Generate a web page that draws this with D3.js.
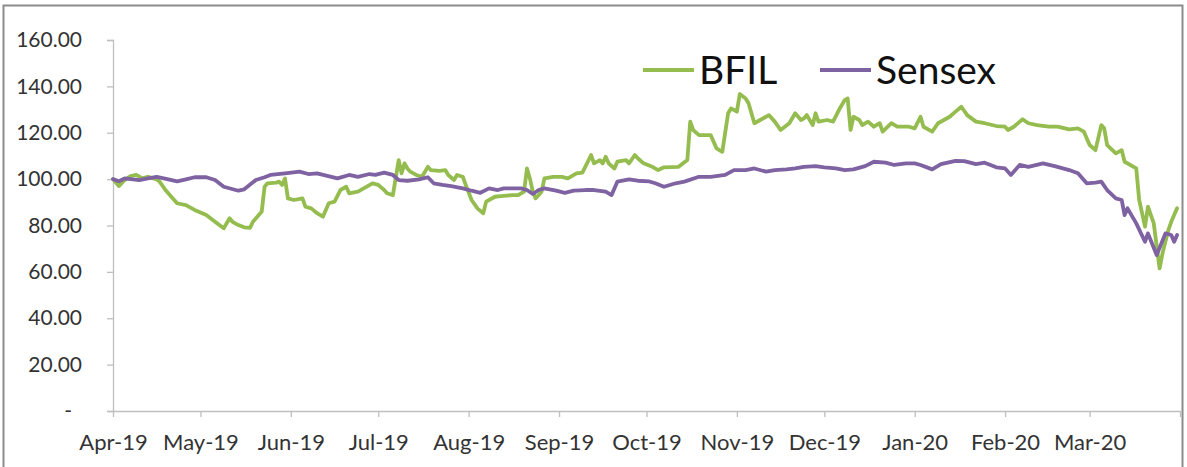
<!DOCTYPE html>
<html>
<head>
<meta charset="utf-8">
<script src="https://cdn.jsdelivr.net/npm/d3@7"></script>
<style>
  body { margin: 0; background: #fff; }
  svg { display: block; font-family: Lato, "Open Sans", sans-serif; }
</style>
</head>
<body>
<div id="app"></div>
<script>
// month boundaries shown as ticks on the x axis (last one has no label)
const monthTicks = ["2019-04-01", "2019-05-01", "2019-06-01", "2019-07-01", "2019-08-01", "2019-09-01",
    "2019-10-01", "2019-11-01", "2019-12-01", "2020-01-01", "2020-02-01", "2020-03-01", "2020-04-01"];
const yTicks = [0, 20, 40, 60, 80, 100, 120, 140, 160];
const seriesNames = ["BFIL", "Sensex"];

// indexed values (1 Apr 2019 = 100)
const bfil = [
    ["2019-04-01", 100.0], ["2019-04-03", 97.0], ["2019-04-05", 99.6], ["2019-04-07", 101.3], ["2019-04-09", 101.8],
    ["2019-04-11", 100.3], ["2019-04-13", 101.0], ["2019-04-16", 99.9], ["2019-04-17", 98.9], ["2019-04-19", 95.3],
    ["2019-04-21", 92.4], ["2019-04-23", 89.6], ["2019-04-26", 88.8], ["2019-04-29", 86.7], ["2019-05-03", 84.5],
    ["2019-05-06", 81.6], ["2019-05-09", 78.8], ["2019-05-11", 83.1], ["2019-05-12", 81.6], ["2019-05-14", 80.2],
    ["2019-05-16", 79.2], ["2019-05-18", 79.0], ["2019-05-19", 81.6], ["2019-05-21", 84.5], ["2019-05-22", 85.9],
    ["2019-05-23", 96.7], ["2019-05-24", 98.2], ["2019-05-27", 98.5], ["2019-05-28", 98.9], ["2019-05-29", 97.5],
    ["2019-05-30", 100.3], ["2019-05-31", 91.7], ["2019-06-02", 91.0], ["2019-06-05", 91.7], ["2019-06-06", 88.1],
    ["2019-06-08", 87.4], ["2019-06-10", 85.3], ["2019-06-12", 83.8], ["2019-06-14", 89.6], ["2019-06-16", 90.3],
    ["2019-06-18", 95.3], ["2019-06-20", 96.7], ["2019-06-21", 93.9], ["2019-06-24", 94.6], ["2019-06-26", 96.0],
    ["2019-06-29", 98.2], ["2019-07-01", 97.5], ["2019-07-03", 95.3], ["2019-07-04", 93.9], ["2019-07-06", 93.1],
    ["2019-07-08", 108.2], ["2019-07-09", 102.5], ["2019-07-10", 106.8], ["2019-07-11", 104.6], ["2019-07-12", 103.2],
    ["2019-07-14", 101.8], ["2019-07-16", 101.0], ["2019-07-18", 105.3], ["2019-07-19", 103.9], ["2019-07-22", 103.6],
    ["2019-07-24", 103.9], ["2019-07-25", 101.8], ["2019-07-27", 99.6], ["2019-07-28", 101.8], ["2019-07-30", 101.0],
    ["2019-07-31", 97.5], ["2019-08-02", 91.0], ["2019-08-04", 87.4], ["2019-08-06", 85.3], ["2019-08-07", 90.3],
    ["2019-08-08", 91.0], ["2019-08-10", 92.4], ["2019-08-12", 92.7], ["2019-08-16", 93.1], ["2019-08-18", 93.1],
    ["2019-08-20", 94.6], ["2019-08-21", 104.6], ["2019-08-22", 100.3], ["2019-08-23", 94.6], ["2019-08-24", 91.7],
    ["2019-08-26", 94.6], ["2019-08-27", 100.3], ["2019-08-30", 101.0], ["2019-09-02", 101.0], ["2019-09-04", 100.3],
    ["2019-09-07", 102.5], ["2019-09-09", 102.8], ["2019-09-10", 105.3], ["2019-09-12", 110.4], ["2019-09-13", 106.8],
    ["2019-09-15", 108.2], ["2019-09-16", 106.8], ["2019-09-17", 109.7], ["2019-09-18", 106.8], ["2019-09-20", 104.6],
    ["2019-09-21", 107.5], ["2019-09-24", 108.2], ["2019-09-25", 106.8], ["2019-09-27", 110.4], ["2019-09-28", 109.0],
    ["2019-09-30", 106.8], ["2019-10-03", 105.3], ["2019-10-05", 103.9], ["2019-10-07", 105.1], ["2019-10-12", 105.3],
    ["2019-10-15", 108.2], ["2019-10-16", 124.8], ["2019-10-17", 121.2], ["2019-10-19", 119.0], ["2019-10-23", 119.0],
    ["2019-10-25", 113.3], ["2019-10-27", 111.8], ["2019-10-29", 128.4], ["2019-10-30", 130.5], ["2019-11-01", 129.1],
    ["2019-11-02", 136.7], ["2019-11-04", 134.8], ["2019-11-05", 132.7], ["2019-11-07", 124.1], ["2019-11-09", 125.5],
    ["2019-11-12", 127.6], ["2019-11-14", 124.8], ["2019-11-16", 121.2], ["2019-11-19", 124.1], ["2019-11-21", 128.4],
    ["2019-11-23", 125.5], ["2019-11-24", 126.2], ["2019-11-25", 127.6], ["2019-11-27", 123.3], ["2019-11-28", 128.4],
    ["2019-11-29", 124.8], ["2019-12-02", 125.5], ["2019-12-04", 124.8], ["2019-12-06", 129.8], ["2019-12-08", 134.1],
    ["2019-12-09", 134.8], ["2019-12-10", 121.2], ["2019-12-11", 126.9], ["2019-12-13", 125.5], ["2019-12-14", 123.3],
    ["2019-12-16", 124.8], ["2019-12-18", 122.6], ["2019-12-20", 124.1], ["2019-12-21", 120.5], ["2019-12-24", 124.1],
    ["2019-12-26", 122.6], ["2019-12-30", 122.6], ["2020-01-01", 121.9], ["2020-01-03", 126.9], ["2020-01-04", 122.6],
    ["2020-01-07", 120.5], ["2020-01-09", 124.1], ["2020-01-13", 126.9], ["2020-01-15", 129.1], ["2020-01-17", 131.2],
    ["2020-01-19", 127.6], ["2020-01-22", 124.8], ["2020-01-25", 124.1], ["2020-01-29", 122.9], ["2020-02-01", 122.6],
    ["2020-02-02", 121.2], ["2020-02-04", 122.6], ["2020-02-07", 125.8], ["2020-02-09", 124.1], ["2020-02-12", 123.3],
    ["2020-02-16", 122.6], ["2020-02-19", 122.6], ["2020-02-23", 121.5], ["2020-02-26", 121.9], ["2020-02-28", 120.5],
    ["2020-03-01", 114.7], ["2020-03-03", 112.5], ["2020-03-05", 123.3], ["2020-03-06", 121.9], ["2020-03-07", 114.7],
    ["2020-03-10", 111.1], ["2020-03-12", 112.5], ["2020-03-13", 107.5], ["2020-03-17", 104.6], ["2020-03-18", 91.0],
    ["2020-03-20", 79.5], ["2020-03-21", 88.1], ["2020-03-23", 80.9], ["2020-03-25", 61.5], ["2020-03-26", 68.0],
    ["2020-03-28", 78.0], ["2020-03-29", 81.6], ["2020-03-31", 87.4]
];

const sensex = [
    ["2019-04-01", 100.0], ["2019-04-03", 99.1], ["2019-04-05", 100.3], ["2019-04-10", 99.6], ["2019-04-13", 100.3],
    ["2019-04-16", 101.0], ["2019-04-20", 99.9], ["2019-04-23", 99.0], ["2019-04-26", 99.9], ["2019-04-29", 100.8],
    ["2019-05-03", 100.8], ["2019-05-06", 99.6], ["2019-05-09", 96.7], ["2019-05-14", 95.0], ["2019-05-16", 95.6],
    ["2019-05-20", 99.6], ["2019-05-23", 100.8], ["2019-05-25", 101.8], ["2019-05-30", 102.5], ["2019-06-04", 103.2],
    ["2019-06-07", 102.2], ["2019-06-10", 102.5], ["2019-06-17", 100.3], ["2019-06-21", 101.8], ["2019-06-24", 101.0],
    ["2019-06-28", 102.2], ["2019-06-30", 101.8], ["2019-07-03", 102.8], ["2019-07-06", 101.8], ["2019-07-08", 99.6],
    ["2019-07-11", 99.3], ["2019-07-15", 99.9], ["2019-07-18", 100.8], ["2019-07-20", 98.2], ["2019-07-23", 97.5],
    ["2019-07-26", 97.0], ["2019-07-30", 96.0], ["2019-08-02", 95.0], ["2019-08-05", 94.1], ["2019-08-08", 96.0],
    ["2019-08-11", 95.3], ["2019-08-13", 96.0], ["2019-08-17", 96.0], ["2019-08-19", 96.0], ["2019-08-21", 95.3],
    ["2019-08-23", 93.6], ["2019-08-25", 95.3], ["2019-08-27", 96.0], ["2019-08-31", 95.0], ["2019-09-03", 94.1],
    ["2019-09-06", 95.0], ["2019-09-10", 95.3], ["2019-09-13", 95.3], ["2019-09-17", 94.6], ["2019-09-19", 93.1],
    ["2019-09-21", 98.9], ["2019-09-25", 99.9], ["2019-09-28", 99.3], ["2019-10-02", 99.0], ["2019-10-04", 98.2],
    ["2019-10-07", 96.7], ["2019-10-11", 98.2], ["2019-10-14", 98.9], ["2019-10-19", 101.0], ["2019-10-23", 101.0],
    ["2019-10-28", 101.8], ["2019-10-31", 103.9], ["2019-11-04", 103.9], ["2019-11-07", 104.6], ["2019-11-11", 103.2],
    ["2019-11-14", 103.9], ["2019-11-18", 104.2], ["2019-11-21", 104.6], ["2019-11-24", 105.3], ["2019-11-28", 105.6],
    ["2019-12-01", 105.1], ["2019-12-05", 104.6], ["2019-12-08", 103.9], ["2019-12-11", 104.2], ["2019-12-15", 105.6],
    ["2019-12-18", 107.5], ["2019-12-22", 107.1], ["2019-12-25", 106.1], ["2019-12-29", 106.8], ["2020-01-01", 106.8],
    ["2020-01-03", 106.1], ["2020-01-07", 104.2], ["2020-01-10", 106.5], ["2020-01-15", 107.9], ["2020-01-18", 107.8],
    ["2020-01-22", 106.5], ["2020-01-25", 107.1], ["2020-01-29", 105.1], ["2020-02-01", 104.6], ["2020-02-03", 101.8],
    ["2020-02-06", 106.1], ["2020-02-09", 105.3], ["2020-02-14", 106.8], ["2020-02-18", 105.6], ["2020-02-23", 103.9],
    ["2020-02-26", 102.5], ["2020-02-29", 98.2], ["2020-03-03", 98.5], ["2020-03-05", 98.9], ["2020-03-07", 95.3],
    ["2020-03-10", 91.7], ["2020-03-12", 91.0], ["2020-03-13", 84.5], ["2020-03-14", 87.4], ["2020-03-17", 80.9],
    ["2020-03-20", 73.0], ["2020-03-21", 76.6], ["2020-03-24", 67.3], ["2020-03-27", 76.6], ["2020-03-29", 75.9],
    ["2020-03-30", 73.0], ["2020-03-31", 75.9]
];

const colors = ["#94bc4f", "#7f62a1"];

// set the dimensions and margins of the graph
const margin = {top: 40, right: 7, bottom: 56, left: 113},
    width = 1187 - margin.left - margin.right,
    height = 467 - margin.top - margin.bottom;

const parse = d3.timeParse("%Y-%m-%d");

const root = d3.select("#app")
    .append("svg")
    .attr("width", 1187)
    .attr("height", 467);

// outer chart frame
root.append("rect")
    .attr("x", 3.5).attr("y", 5.5)
    .attr("width", 1179).attr("height", 475)
    .attr("fill", "none")
    .attr("stroke", "#8c8c8c")
    .attr("stroke-width", 2);

const svg = root.append("g")
    .attr("transform", `translate(${margin.left}, ${margin.top})`);

const x = d3.scaleTime()
    .domain([parse(monthTicks[0]), parse(monthTicks[monthTicks.length - 1])])
    .range([0, width]);

const y = d3.scaleLinear()
    .domain([0, 160])
    .range([height, 0]);

// y axis
const yAxis = svg.append("g")
    .call(d3.axisLeft(y)
        .tickValues(yTicks)
        .tickSize(6)
        .tickPadding(25)
        .tickFormat(d => d === 0 ? "-" : d.toFixed(2)));
yAxis.selectAll("text")
    .attr("dx", d => d === 0 ? -10 : 0);

// x axis
const fmt = d3.timeFormat("%b-%y");
const lastTick = monthTicks[monthTicks.length - 1];
const xAxis = svg.append("g")
    .attr("transform", `translate(0, ${height})`)
    .call(d3.axisBottom(x)
        .tickValues(monthTicks.map(parse))
        .tickSize(6)
        .tickSizeOuter(0)
        .tickPadding(17)
        .tickFormat(d => d3.timeFormat("%Y-%m-%d")(d) === lastTick ? "" : fmt(d)));

svg.selectAll(".domain, .tick line")
    .attr("stroke", "#bfbfbf")
    .attr("stroke-width", 1.3);
svg.selectAll(".tick text")
    .attr("fill", "#333")
    .style("font-size", "21px")
    .style("font-family", "Lato, 'Open Sans', sans-serif");
xAxis.selectAll(".tick text")
    .style("font-size", "22px");

// the two index lines, BFIL first so Sensex sits on top
const line = d3.line()
    .x(d => x(parse(d[0])))
    .y(d => y(d[1]));

[bfil, sensex].forEach((series, i) => {
    svg.append("path")
        .datum(series)
        .attr("fill", "none")
        .attr("stroke", colors[i])
        .attr("stroke-width", 3.8)
        .attr("stroke-linejoin", "round")
        .attr("stroke-linecap", "round")
        .attr("d", line);
});

// legend
const legendX = [643, 820];
const legend = root.append("g")
    .selectAll("g")
    .data(seriesNames)
    .join("g")
    .attr("transform", (d, i) => `translate(${legendX[i]}, 70)`);
legend.append("line")
    .attr("x1", 0).attr("x2", 51)
    .attr("stroke", (d, i) => colors[i])
    .attr("stroke-width", 3.8);
legend.append("text")
    .attr("x", 56)
    .attr("y", 14)
    .attr("fill", "#111")
    .style("font-size", "39px")
    .text(d => d);
</script>
</body>
</html>
